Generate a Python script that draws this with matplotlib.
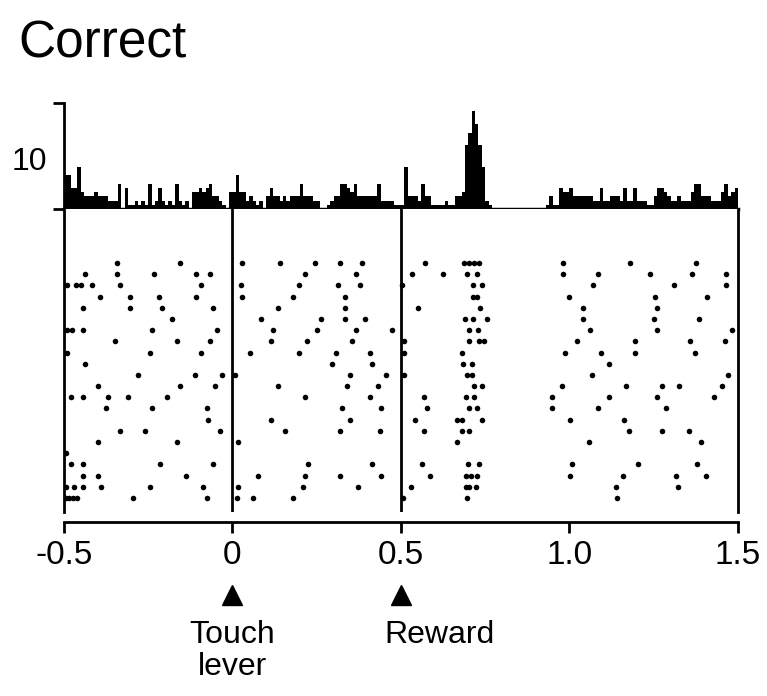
import numpy as np
import matplotlib
matplotlib.use("Agg")
import matplotlib.pyplot as plt

plt.rcParams['font.family'] = ['Liberation Sans', 'DejaVu Sans']
plt.rcParams['axes.unicode_minus'] = False

# PSTH counts, 0.01 s bins from -0.5 to 1.5
psth_counts = [
    8, 8, 5, 5, 10, 4, 3, 3, 3, 4,
    3, 3, 3, 2, 2, 2, 6, 0, 5, 1,
    1, 2, 1, 2, 1, 6, 1, 2, 5, 2,
    1, 2, 1, 6, 2, 1, 2, 0, 4, 4,
    5, 4, 5, 6, 3, 3, 2, 1, 0, 4,
    4, 8, 4, 4, 2, 3, 2, 1, 2, 0,
    3, 5, 3, 3, 2, 3, 2, 3, 3, 3,
    6, 3, 3, 3, 2, 2, 0, 0, 1, 2,
    3, 3, 6, 6, 5, 4, 6, 3, 3, 3,
    3, 3, 3, 6, 2, 2, 2, 2, 1, 1,
    1, 10, 3, 3, 3, 2, 6, 3, 3, 1,
    1, 1, 1, 2, 1, 1, 3, 3, 4, 15,
    18, 23, 20, 15, 10, 2, 1, 0, 0, 0,
    0, 0, 0, 0, 0, 0, 0, 0, 0, 0,
    0, 0, 0, 1, 3, 1, 1, 5, 4, 4,
    5, 3, 3, 3, 3, 3, 3, 2, 2, 5,
    2, 2, 3, 3, 3, 2, 5, 2, 2, 5,
    2, 2, 2, 1, 1, 3, 5, 5, 4, 3,
    2, 2, 3, 2, 2, 2, 4, 6, 6, 3,
    3, 3, 2, 2, 2, 4, 6, 3, 4, 5,
]

# spike times (s) per trial, top trial first
trial_spikes = [
    [-0.344, -0.157, 0.027, 0.142, 0.246, 0.320, 0.383, 0.570, 0.688, 0.703, 0.718, 0.733, 0.982, 1.181, 1.377],
    [-0.439, -0.344, -0.234, -0.107, -0.068, 0.214, 0.368, 0.534, 0.626, 0.697, 0.727, 0.982, 1.086, 1.240, 1.365, 1.466],
    [-0.490, -0.463, -0.448, -0.418, -0.335, -0.092, 0.024, 0.196, 0.312, 0.377, 0.504, 0.715, 0.742, 1.071, 1.309, 1.466],
    [-0.392, -0.303, -0.217, -0.107, 0.027, 0.181, 0.335, 0.715, 0.727, 1.000, 1.255, 1.407],
    [-0.445, -0.303, -0.208, -0.059, 0.136, 0.335, 0.552, 0.736, 1.039, 1.261],
    [-0.178, 0.086, 0.264, 0.335, 0.392, 0.691, 0.715, 0.754, 1.039, 1.252, 1.383],
    [-0.490, -0.475, -0.445, -0.240, -0.045, 0.119, 0.252, 0.368, 0.472, 0.703, 0.730, 1.062, 1.261, 1.481],
    [-0.350, -0.166, -0.068, 0.113, 0.220, 0.356, 0.510, 0.703, 0.733, 0.745, 1.021, 1.196, 1.359, 1.463],
    [-0.490, -0.246, -0.092, 0.053, 0.196, 0.306, 0.407, 0.510, 0.682, 0.988, 1.095, 1.196, 1.374],
    [-0.439, 0.294, 0.415, 0.685, 0.712, 1.116],
    [-0.279, -0.110, -0.030, 0.009, 0.350, 0.457, 0.510, 0.697, 0.712, 1.068, 1.472],
    [-0.398, -0.157, -0.053, 0.136, 0.341, 0.433, 0.718, 0.742, 0.979, 1.169, 1.276, 1.326, 1.454],
    [-0.478, -0.445, -0.368, -0.309, -0.193, 0.214, 0.407, 0.567, 0.694, 0.718, 0.947, 1.116, 1.261, 1.430],
    [-0.374, -0.240, -0.077, 0.326, 0.442, 0.576, 0.703, 0.727, 0.947, 1.086, 1.288],
    [-0.074, 0.113, 0.350, 0.543, 0.665, 0.682, 0.742, 1.003, 1.163],
    [-0.335, -0.261, -0.036, 0.157, 0.318, 0.439, 0.567, 0.682, 0.703, 1.178, 1.276, 1.356],
    [-0.398, -0.166, 0.015, 0.665, 1.059, 1.389],
    [-0.495],
    [-0.478, -0.445, -0.214, -0.059, 0.223, 0.415, 0.561, 0.700, 0.733, 1.009, 1.202, 1.380],
    [-0.445, -0.398, -0.139, 0.077, 0.214, 0.318, 0.442, 0.585, 0.694, 0.709, 0.727, 1.003, 1.160, 1.315, 1.404],
    [-0.493, -0.469, -0.445, -0.389, -0.246, -0.086, 0.015, 0.208, 0.374, 0.531, 0.694, 0.703, 0.724, 1.139, 1.323],
    [-0.493, -0.484, -0.472, -0.460, -0.294, -0.077, 0.012, 0.062, 0.181, 0.507, 0.697, 1.142],
]

tick_values = [-0.5, 0, 0.5, 1.0, 1.5]
tick_labels = ['-0.5', '0', '0.5', '1.0', '1.5']
events = [0.0, 0.5]
event_names = ['Touch\nlever', 'Reward']

t_start, t_end, bin_w = -0.5, 1.5, 0.01
lw = 2.0

fig = plt.figure(figsize=(7.67, 6.96), dpi=100)
ax_h = fig.add_axes([0.0834, 0.6997, 0.8787, 0.1523])
ax_r = fig.add_axes([0.0834, 0.2644, 0.8787, 0.4353])

# histogram
edges = t_start + bin_w * np.arange(len(psth_counts))
ax_h.bar(edges, psth_counts, width=bin_w, align='edge', color='black', linewidth=0)
ax_h.set_xlim(t_start, t_end)
ax_h.set_ylim(0, 25)
for s in ['top', 'right']:
    ax_h.spines[s].set_visible(False)
ax_h.spines['left'].set_linewidth(lw)
ax_h.spines['bottom'].set_linewidth(lw + 0.5)
ax_h.set_xticks([])
ax_h.set_yticks([0, 25])
ax_h.set_yticklabels([])
ax_h.tick_params(axis='y', direction='out', length=8, width=lw)
ax_h.text(-0.025, 11, '10', transform=ax_h.get_yaxis_transform(), ha='right',
          va='center', fontsize=23)

# raster
for i, spikes in enumerate(trial_spikes):
    ax_r.plot(spikes, [i + 1] * len(spikes), 'o', color='black', ms=4.0, mew=0)
for ev in events:
    ax_r.axvline(ev, color='black', lw=lw)
ax_r.set_xlim(t_start, t_end)
ax_r.set_ylim(len(trial_spikes) + 1.25, -3.83)
ax_r.spines['top'].set_visible(False)
for s in ['left', 'right']:
    ax_r.spines[s].set_linewidth(lw)
ax_r.spines['bottom'].set_linewidth(lw)
ax_r.spines['bottom'].set_position(('outward', 7))
ax_r.set_yticks([])
ax_r.set_xticks(tick_values)
ax_r.set_xticklabels(tick_labels, fontsize=24)
ax_r.tick_params(axis='x', direction='out', length=8, width=lw, pad=5)

# event markers
trans = ax_r.get_xaxis_transform()
ax_r.plot(events, [-0.275] * len(events), '^', color='black', ms=15,
          transform=trans, clip_on=False)
ax_r.text(events[0], -0.355, event_names[0], transform=trans, ha='center',
          va='top', fontsize=23, linespacing=1.1)
ax_r.text(events[1] + 0.115, -0.355, event_names[1], transform=trans,
          ha='center', va='top', fontsize=23)

fig.text(18 / 767, 1 - 58 / 696, 'Correct', fontsize=37, va='baseline')

fig.savefig('out.png', dpi=100)
